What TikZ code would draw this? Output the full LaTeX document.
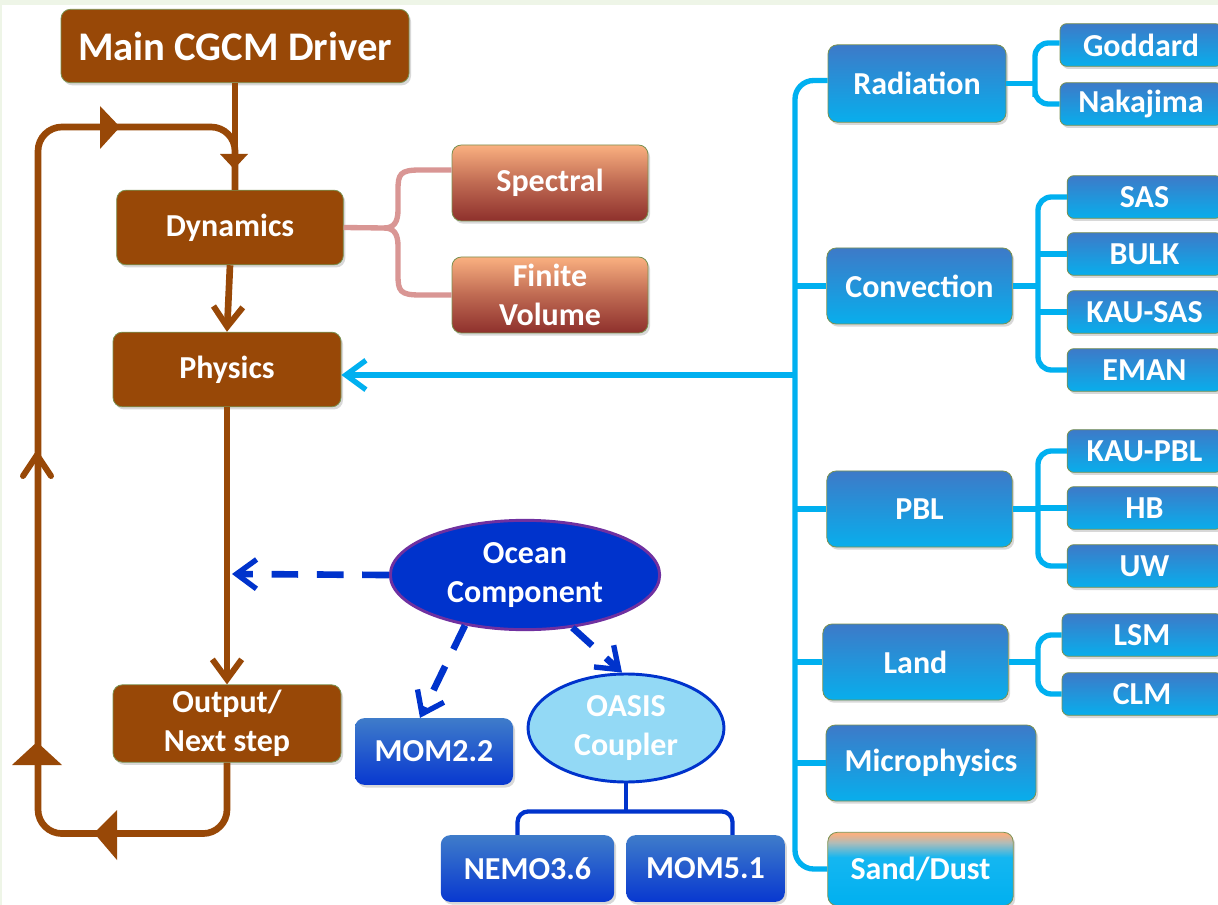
\documentclass[tikz,border=0pt]{standalone}
\usepackage{fontspec}
\setmainfont{Carlito}
\usetikzlibrary{arrows.meta,shapes.geometric,shadows,calc}
\definecolor{brn}{HTML}{984807}
\definecolor{cyl}{HTML}{00B0F0}
\definecolor{bluetop}{HTML}{3D7AC8}
\definecolor{bluebot}{HTML}{08AEEC}
\definecolor{dbtop}{HTML}{3F7CCA}
\definecolor{dbbot}{HTML}{0838D0}
\definecolor{dkblue}{HTML}{0033CC}
\definecolor{purp}{HTML}{7030A0}
\definecolor{lblue}{HTML}{93D9F5}
\definecolor{peach}{HTML}{FAB080}
\definecolor{dred}{HTML}{8E302C}
\definecolor{pinkl}{HTML}{D99694}
\definecolor{olive}{HTML}{7A9150}
\definecolor{bggreen}{HTML}{EEF5E7}
\definecolor{sandmid}{HTML}{B0BCB8}
\pgfdeclareverticalshading{sandsh}{100bp}{color(0bp)=(cyl); color(25bp)=(cyl); color(58bp)=(cyl!92!white); color(68bp)=(sandmid); color(74bp)=(peach); color(100bp)=(peach)}
\tikzset{
  lbl/.style={font=\bfseries\fontsize{24}{29}\selectfont, text=white, align=center, inner sep=0pt},
  shd/.style={drop shadow={opacity=0.3, shadow xshift=1.5pt, shadow yshift=-2pt}},
  brnbox/.style={lbl, shd, rectangle, rounded corners=7pt, fill=brn, draw=olive, line width=0.6pt},
  bluebox/.style={lbl, shd, rectangle, rounded corners=7pt, top color=bluetop, bottom color=bluebot, draw=olive, line width=0.6pt},
  childbox/.style={bluebox, minimum height=32pt, rounded corners=5pt},
  dbbox/.style={lbl, shd, rectangle, rounded corners=7pt, top color=dbtop, bottom color=dbbot, draw=none, minimum height=50pt},
  peachbox/.style={lbl, shd, rectangle, rounded corners=7pt, top color=peach, bottom color=dred, middle color=peach!45!dred, draw=olive, line width=0.6pt, minimum width=147pt, minimum height=57pt},
  brnline/.style={draw=brn, line width=5pt},
  cyline/.style={draw=cyl, line width=4pt},
  dbline/.style={draw=dkblue, line width=3.2pt},
  dshline/.style={draw=dkblue, line width=5pt, dash pattern=on 20pt off 14pt},
  barb/.style={-{Straight Barb[length=15pt,width=22pt,line width=4.5pt]}},
  cbarb/.style={-{Straight Barb[length=15pt,width=22pt,line width=4pt]}},
}
\begin{document}
\begin{tikzpicture}[x=0.75pt,y=-0.75pt]
\fill[bggreen] (0,0) rectangle (1218,905);
\fill[white] (2,5) rectangle (1218,905);
\useasboundingbox (0,0) rectangle (1218,905);
\clip (0,0) rectangle (1218,905);

% left column
\node[brnbox, minimum width=261pt, minimum height=55pt, font=\bfseries\fontsize{30.5}{36}\selectfont] (Main) at (235,46) {Main CGCM Driver};
\node[brnbox, minimum width=170pt, minimum height=56pt] (Dyn) at (230,227.5) {Dynamics};
\node[brnbox, minimum width=171pt, minimum height=56pt] (Phys) at (227,369.5) {Physics};
\node[brnbox, minimum width=171pt, minimum height=58pt] (Out) at (227,723.5) {Output/\\Next step};

\node[peachbox] (Spec) at (550,183) {Spectral};
\node[peachbox] (FV) at (550,295) {Finite\\Volume};

% right column
\node[bluebox, minimum width=133.5pt, minimum height=58pt] (Rad) at (917,83.5) {Radiation};
\node[bluebox, minimum width=139pt, minimum height=57pt] (Conv) at (919.5,286) {Convection};
\node[bluebox, minimum width=139pt, minimum height=57pt] (PBL) at (919.5,509) {PBL};
\node[bluebox, minimum width=139pt, minimum height=57pt] (Land) at (915.5,662) {Land};
\node[bluebox, minimum width=157.5pt, minimum height=57pt] (Micro) at (931,763) {Microphysics};
\node[lbl, shd, rectangle, rounded corners=7pt, shading=sandsh, draw=olive, line width=0.6pt, minimum width=139pt, minimum height=55pt] (Sand) at (920.5,869) {Sand/Dust};

\node[childbox, minimum width=121.5pt] (God) at (1141,45) {Goddard};
\node[childbox, minimum width=121.5pt] (Nak) at (1141,104) {Nakajima};
\node[childbox, minimum width=116pt] (SAS) at (1144.5,197) {SAS};
\node[childbox, minimum width=116pt] (BULK) at (1144.5,254) {BULK};
\node[childbox, minimum width=116pt] (KSAS) at (1144.5,312) {KAU-SAS};
\node[childbox, minimum width=116pt] (EMAN) at (1144.5,370) {EMAN};
\node[childbox, minimum width=116pt] (KPBL) at (1144.5,451) {KAU-PBL};
\node[childbox, minimum width=116pt] (HB) at (1144.5,508) {HB};
\node[childbox, minimum width=116pt] (UW) at (1144.5,566) {UW};
\node[childbox, minimum width=120pt] (LSM) at (1142,635) {LSM};
\node[childbox, minimum width=120pt] (CLM) at (1142,694) {CLM};

% ocean
\node[lbl, ellipse, fill=dkblue, draw=purp, line width=2.2pt, minimum width=202pt, minimum height=82pt] (Ocean) at (525,575) {Ocean\\Component};
\node[lbl, ellipse, fill=lblue, draw=dkblue, line width=2.2pt, minimum width=147pt, minimum height=81pt] (OASIS) at (626,728) {OASIS\\Coupler};
\node[dbbox, minimum width=118.5pt] (MOM2) at (434,751.5) {MOM2.2};
\node[dbbox, minimum width=130pt] (NEMO) at (527.5,868.5) {NEMO3.6};
\node[dbbox, minimum width=119pt] (MOM5) at (705.5,868.5) {MOM5.1};

% brown flow
\coordinate (dtop) at (Main.south |- Dyn.north);
\draw[brnline] (Main.south) -- (dtop);
\draw[brnline, rounded corners=18pt] (Out.south) -- ++(0,71) -| (38,127) -| (dtop);
\draw[brnline, barb] (Dyn.south) -- (Phys.north);
\draw[brnline, barb] (Phys.south) -- (Out.north);
\fill[brn] (100,106) -- (120,127) -- (100,149) -- cycle;
\fill[brn] (220,154) -- (248,154) -- (234,169) -- cycle;
\fill[brn] (12,765) -- (62,765) -- (37,742) -- cycle;
\fill[brn] (117,810) -- (117,860) -- (94,833) -- cycle;
\draw[draw=brn, line width=4.5pt, line cap=round, line join=round] (23,476) -- (37,455) -- (51,476);

% pink brace
\coordinate (pc) at (384,228);
\draw[draw=pinkl, line width=4pt] (Dyn.east) -- (pc);
\draw[draw=pinkl, line width=4pt] ($(Spec.west)+(0,-13)$) -- (420,170) .. controls (400,170) and (398,174) .. (398,190) -- (398,210) .. controls (398,222) and (394,228) .. (pc);
\draw[draw=pinkl, line width=4pt] (FV.west) -- (420,295) .. controls (400,295) and (398,291) .. (398,275) -- (398,246) .. controls (398,234) and (394,228) .. (pc);

% cyan bus
\coordinate (bus) at (795,400);
\draw[cyline, rounded corners=14pt] ($(Rad.west)+(0,-3)$) -| (bus) |- (Sand.west);
\draw[cyline] (bus |- Conv.west) -- (Conv.west);
\draw[cyline] (bus |- PBL.west) -- (PBL.west);
\draw[cyline] (bus |- Land.west) -- (Land.west);
\draw[cyline] (bus |- Micro.west) -- (Micro.west);
\draw[cyline, cbarb] (bus |- 0,375) -- (Phys.east |- 0,375);

% child brackets
\coordinate (rb) at (1035,0);
\coordinate (cb) at (1038,0);
\draw[cyline] (Rad.east) -- (rb |- Rad.east);
\draw[cyline, rounded corners=10pt] ($(God.west)+(0,-2)$) -| (rb |- Rad.east) |- (Nak.west);
\draw[cyline] (Conv.east) -- (cb |- Conv.east);
\draw[cyline, rounded corners=10pt] (SAS.west) -| (cb |- Conv.east) |- (EMAN.west);
\draw[cyline] (cb |- BULK.west) -- (BULK.west);
\draw[cyline] (cb |- KSAS.west) -- (KSAS.west);
\draw[cyline] (PBL.east) -- (cb |- PBL.east);
\draw[cyline, rounded corners=10pt] (KPBL.west) -| (cb |- PBL.east) |- (UW.west);
\draw[cyline] (cb |- HB.west) -- (HB.west);
\draw[cyline] (Land.east) -- (cb |- Land.east);
\draw[cyline, rounded corners=10pt] (LSM.west) -| (cb |- Land.east) |- (CLM.west);

% ocean connectors
\coordinate (tap) at (232,574);
\draw[dshline, cbarb] (Ocean.west) -- (tap);
\draw[dshline, cbarb] (Ocean.220) -- ($(MOM2.north)+(-14,0)$);
\draw[dshline, cbarb] (Ocean.-48) -- ($(OASIS.north)+(-4,0)$);
\coordinate (ob) at ($(OASIS.south)+(0,28)$);
\draw[dbline] (OASIS.south) -- (ob);
\draw[dbline, rounded corners=8pt] ($(NEMO.north)+(-10,0)$) |- (ob) -| ($(MOM5.north)+(27,0)$);
\end{tikzpicture}
\end{document}
